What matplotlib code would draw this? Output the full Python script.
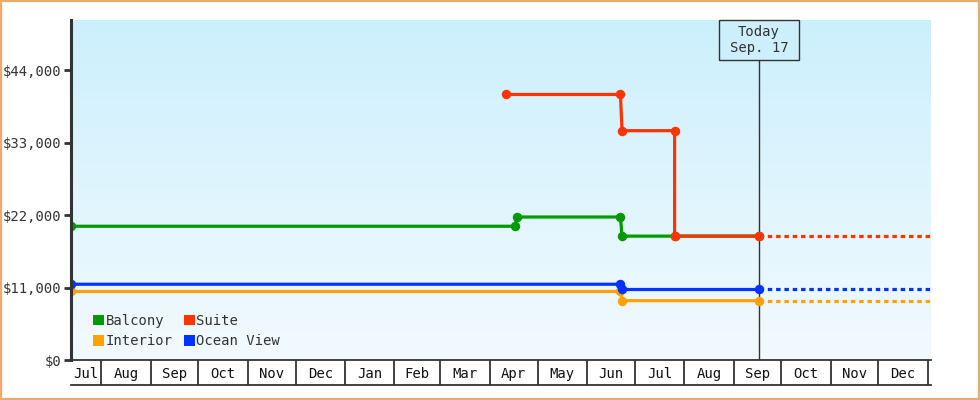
import numpy as np
import pandas as pd
import matplotlib
matplotlib.use('Agg')
import matplotlib.pyplot as plt
import matplotlib.dates as mdates
import matplotlib.transforms as mtrans
from matplotlib.patches import Patch, Rectangle

# price observations per cabin type
balcony_dates = ['2023-07-13', '2024-04-17', '2024-04-18', '2024-06-22', '2024-06-23', '2024-07-26', '2024-09-17']
balcony_prices = [20300, 20300, 21700, 21700, 18800, 18800, 18800]

suite_dates = ['2024-04-11', '2024-06-22', '2024-06-23', '2024-07-26', '2024-07-26', '2024-09-17']
suite_prices = [40300, 40300, 34800, 34800, 18800, 18800]

ocean_dates = ['2023-07-13', '2024-06-22', '2024-06-23', '2024-09-17']
ocean_prices = [11500, 11500, 10700, 10700]

interior_dates = ['2023-07-13', '2024-06-22', '2024-06-23', '2024-09-17']
interior_prices = [10400, 10400, 9000, 9000]

today = '2024-09-17'
today_label = 'Today\nSep. 17'
x_start, x_end = '2023-07-13', '2025-01-03'
y_ticks = [0, 11000, 22000, 33000, 44000]
y_max = 51600

series = [
    ('Balcony', balcony_dates, balcony_prices, '#009900'),
    ('Interior', interior_dates, interior_prices, '#ffa200'),
    ('Suite', suite_dates, suite_prices, '#ff3300'),
    ('Ocean View', ocean_dates, ocean_prices, '#0033ff'),
]
draw_order = ['Interior', 'Ocean View', 'Balcony', 'Suite']

plt.rcParams['font.family'] = ['DejaVu Sans Mono']
plt.rcParams['font.size'] = 10
txt = '#333333'

fig = plt.figure(figsize=(9.8, 4.0), dpi=100)
fig.patch.set_facecolor('white')
fig.add_artist(Rectangle((0.001, 0.002), 0.998, 0.996, transform=fig.transFigure,
                         facecolor='none', edgecolor='#e8ad6a', linewidth=1.6))

L, R = 71 / 980, 931 / 980
ax = fig.add_axes([L, 40 / 400, R - L, 340 / 400])
x0 = mdates.date2num(pd.Timestamp(x_start))
x1 = mdates.date2num(pd.Timestamp(x_end))
tnum = mdates.date2num(pd.Timestamp(today))

# gradient background
grad = np.linspace(0, 1, 256).reshape(-1, 1)
top = np.array([0.80, 0.94, 0.99])
bot = np.array([0.95, 0.98, 1.0])
img = top[None, None, :] * (1 - grad[:, :, None]) + bot[None, None, :] * grad[:, :, None]
ax.imshow(img, extent=[x0, x1, 0, y_max], aspect='auto', zorder=0, origin='upper')

ax.set_xlim(x0, x1)
ax.set_ylim(0, y_max)

lookup = {s[0]: s for s in series}
last = {}
for i, name in enumerate(draw_order):
    _, d, p, c = lookup[name]
    dn = mdates.date2num(pd.to_datetime(d))
    ax.plot(dn, p, color=c, lw=2.3, marker='o', ms=5.8, zorder=3 + i, solid_joinstyle='miter')
    last[name] = (dn[-1], p[-1], c)

# dashed projection past today; a later series at the same price hides the earlier one
seen = {}
for name in draw_order:
    seen[last[name][1]] = name
for price, name in seen.items():
    xd, _, c = last[name]
    ax.plot([xd, x1], [price, price], color=c, lw=2.3, linestyle=(0, (1.4, 1.2)), zorder=8)

# today marker
box_h = 40 / 340
ax.plot([tnum, tnum], [0, 1 - box_h], color='#333333', lw=1, zorder=2,
        transform=mtrans.blended_transform_factory(ax.transData, ax.transAxes))
half_w = 40 / 1.59
ax.add_patch(Rectangle((tnum - half_w, 1 - box_h), 2 * half_w, box_h,
                       transform=mtrans.blended_transform_factory(ax.transData, ax.transAxes),
                       facecolor='#cdeffc', edgecolor='#333333', lw=1, zorder=10, clip_on=False))
ax.text(tnum, 1 - box_h / 2, today_label, ha='center', va='center', color=txt, zorder=11,
        linespacing=1.25, transform=mtrans.blended_transform_factory(ax.transData, ax.transAxes))

ax.set_yticks(y_ticks)
ax.set_yticklabels(['$' + format(v, ',') for v in y_ticks], color=txt)
ax.tick_params(axis='y', length=5, width=2, color=txt, pad=2)
ax.set_xticks([])
for s in ['top', 'right', 'bottom']:
    ax.spines[s].set_visible(False)
ax.spines['left'].set_linewidth(2.2)
ax.spines['left'].set_color(txt)
ax.spines['left'].set_zorder(20)

handles = [Patch(facecolor=c, edgecolor='none', label=n) for n, _, _, c in series]
ax.legend(handles=handles, ncol=2, loc='lower left', bbox_to_anchor=(0.0255, 0.035),
          frameon=False, handlelength=0.8, handleheight=0.8, handletextpad=0.1,
          columnspacing=0.8, labelspacing=0.45, borderpad=0, borderaxespad=0,
          labelcolor=txt)

# month strip under the plot
sx = fig.add_axes([L, 15 / 400, R - L, 25 / 400], sharex=ax)
sx.set_ylim(0, 1)
sx.set_xlim(x0, x1)
sx.patch.set_alpha(0)
for s in ['left', 'right']:
    sx.spines[s].set_visible(False)
for s in ['top', 'bottom']:
    sx.spines[s].set_linewidth(1.3)
    sx.spines[s].set_color(txt)
sx.set_xticks([])
sx.set_yticks([])
months = pd.date_range('2023-07-01', '2025-01-01', freq='MS')
for a, b in zip(months[:-1], months[1:]):
    an, bn = mdates.date2num(a), mdates.date2num(b)
    if bn <= x1:
        sx.plot([bn, bn], [0, 1], color=txt, lw=1.3)
    lo, hi = max(an, x0), min(bn, x1)
    sx.text((lo + hi) / 2, 0.45, a.strftime('%b'), ha='center', va='center', color='#111111')

fig.savefig('out.png', dpi=100)
